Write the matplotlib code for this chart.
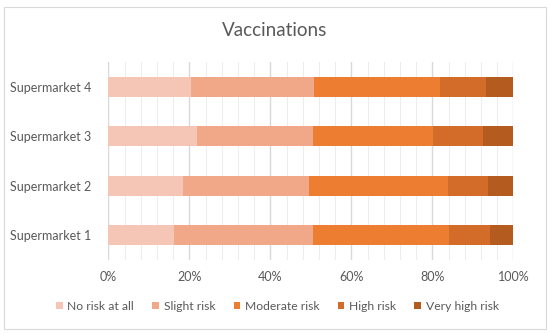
import matplotlib
matplotlib.use("Agg")
import matplotlib.pyplot as plt
from matplotlib.patches import Rectangle
import numpy as np

categories = ["Supermarket 1", "Supermarket 2", "Supermarket 3", "Supermarket 4"]
series_names = ["No risk at all", "Slight risk", "Moderate risk", "High risk", "Very high risk"]
no_risk = [16.1, 18.4, 22.0, 20.3]
slight_risk = [34.4, 31.1, 28.6, 30.5]
moderate_risk = [33.5, 34.4, 29.6, 31.2]
high_risk = [10.2, 9.8, 12.3, 11.3]
very_high_risk = [5.8, 6.3, 7.5, 6.7]
xtick_labels = ["0%", "20%", "40%", "60%", "80%", "100%"]

colors = ["#F5C6B6", "#F0A889", "#ED7D31", "#D36C28", "#B45B20"]

plt.rcParams['font.family'] = ['Lato', 'DejaVu Sans']

fig = plt.figure(figsize=(5.5, 3.34), dpi=100)
fig.patch.set_facecolor("white")
fig.add_artist(Rectangle((4/550, 5/334), 542/550, 322/334, transform=fig.transFigure,
                         fill=False, edgecolor="#D9D9D9", linewidth=0.8))

ax = fig.add_axes([108.3/550, (334-260)/334, 405/550, 198/334])
data = [no_risk, slight_risk, moderate_risk, high_risk, very_high_risk]
y = np.arange(len(categories))
left = np.zeros(len(categories))
for name, vals, c in zip(series_names, data, colors):
    vals = np.array(vals)
    ax.barh(y, vals, left=left, height=0.4, color=c, label=name, zorder=3)
    left += vals

ax.set_xlim(0, 100)
ax.set_ylim(-0.5, len(categories) - 0.5)
ax.set_xticks(np.arange(0, 101, 20))
ax.set_xticklabels(xtick_labels)
ax.set_xticks(np.arange(0, 101, 4), minor=True)
ax.set_yticks(y)
ax.set_yticklabels(categories)
ax.grid(axis="x", which="major", color="#D9D9D9", linewidth=1.0, zorder=0)
ax.grid(axis="x", which="minor", color="#EDEDED", linewidth=0.8, zorder=0)
for s in ax.spines.values():
    s.set_visible(False)
ax.tick_params(axis="both", which="both", length=0, colors="#595959", labelsize=9)
ax.tick_params(axis="x", pad=8)
ax.tick_params(axis="y", pad=12)

fig.text(0.5, 1 - 30/334, "Vaccinations", ha="center", va="center", fontsize=13.6, color="#595959")

handles, labels = ax.get_legend_handles_labels()
fig.legend(handles, labels, loc="center", bbox_to_anchor=(277.5/550, 1 - 306/334), ncol=5,
           frameon=False, fontsize=8.7, labelcolor="#595959", handlelength=0.55, handleheight=0.55,
           handletextpad=0.4, columnspacing=1.5)

fig.savefig("out.png", dpi=100)
